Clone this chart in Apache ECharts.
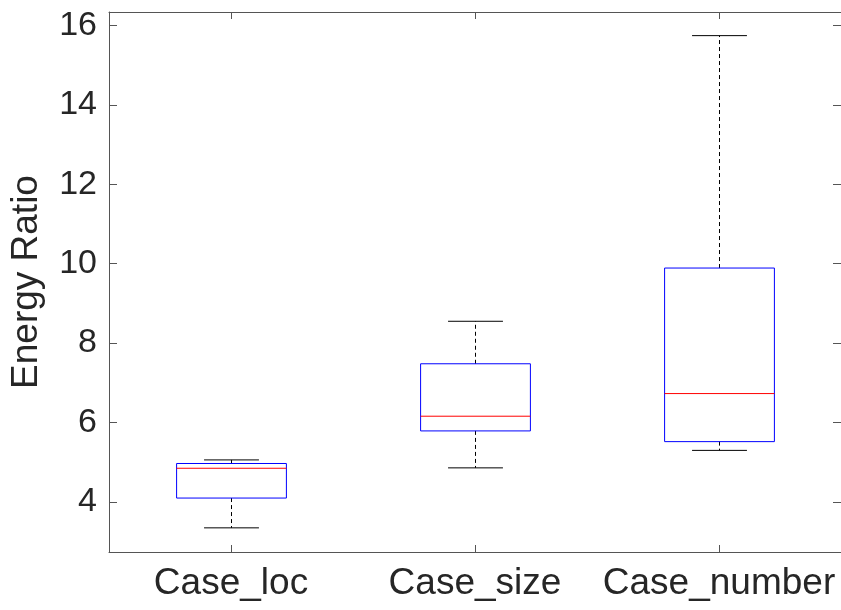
<!DOCTYPE html>
<html>
<head>
<meta charset="utf-8">
<script src="https://cdn.jsdelivr.net/npm/echarts@6/dist/echarts.min.js"></script>
<style>
html,body{margin:0;padding:0;background:#fff;}
#chart{width:841px;height:610px;}
</style>
</head>
<body>
<div id="chart"></div>
<script>
const categories = ['Case_loc', 'Case_size', 'Case_number'];
const whiskerLow = [3.35, 4.86, 5.30];
const quartile1 = [4.10, 5.79, 5.52];
const medians = [4.85, 6.16, 6.73];
const quartile3 = [4.97, 7.48, 9.89];
const whiskerHigh = [5.06, 8.55, 15.74];
const yTicks = [4, 6, 8, 10, 12, 14, 16];
const yMin = 2.742, yMax = 16.335;

const boxData = categories.map((c, i) => [i, whiskerLow[i], quartile1[i], medians[i], quartile3[i], whiskerHigh[i]]);

const font = '"Liberation Sans", Arial, sans-serif';
const textColor = '#262626';
const axisColor = '#555555';

const chart = echarts.init(document.getElementById('chart'), null, {renderer: 'canvas'});

function renderBox(params, api) {
  const idx = api.value(0);
  const x = api.coord([idx, 0])[0];
  const band = api.size([1, 0])[0];
  const boxW = band * 0.45;
  const capW = boxW / 2;
  const yLo = api.coord([idx, api.value(1)])[1];
  const yQ1 = api.coord([idx, api.value(2)])[1];
  const yMed = api.coord([idx, api.value(3)])[1];
  const yQ3 = api.coord([idx, api.value(4)])[1];
  const yHi = api.coord([idx, api.value(5)])[1];
  const xc = Math.round(x) + 0.5;
  const dash = {stroke: '#000', lineWidth: 1, lineDash: [4, 3]};
  const solid = {stroke: '#000', lineWidth: 1};
  return {
    type: 'group',
    children: [
      {type: 'line', shape: {x1: xc, y1: yQ3, x2: xc, y2: yHi}, style: dash},
      {type: 'line', shape: {x1: xc, y1: yQ1, x2: xc, y2: yLo}, style: dash},
      {type: 'line', shape: {x1: xc - capW / 2, y1: yHi, x2: xc + capW / 2, y2: yHi}, style: solid},
      {type: 'line', shape: {x1: xc - capW / 2, y1: yLo, x2: xc + capW / 2, y2: yLo}, style: solid},
      {type: 'rect', shape: {x: xc - boxW / 2, y: yQ3, width: boxW, height: yQ1 - yQ3}, style: {fill: null, stroke: '#0000ff', lineWidth: 1}},
      {type: 'line', shape: {x1: xc - boxW / 2, y1: yMed, x2: xc + boxW / 2, y2: yMed}, style: {stroke: '#ff0000', lineWidth: 1}}
    ]
  };
}

const option = {
  backgroundColor: '#ffffff',
  animation: false,
  grid: {left: 107, top: 12, width: 736, height: 540, containLabel: false},
  xAxis: [
    {
      type: 'category', data: categories, position: 'bottom', boundaryGap: true,
      axisLine: {show: true, lineStyle: {color: axisColor, width: 1}},
      axisTick: {show: true, inside: true, length: 7, alignWithLabel: true, interval: 0, lineStyle: {color: axisColor}},
      axisLabel: {color: textColor, fontFamily: font, fontSize: 37, margin: 13, interval: 0, hideOverlap: false},
      splitLine: {show: false}
    },
    {
      type: 'category', data: categories, position: 'top', boundaryGap: true,
      axisLine: {show: true, lineStyle: {color: axisColor, width: 1}},
      axisTick: {show: true, inside: true, length: 7, alignWithLabel: true, interval: 0, lineStyle: {color: axisColor}},
      axisLabel: {show: false},
      splitLine: {show: false}
    }
  ],
  yAxis: [
    {
      type: 'value', min: yMin, max: yMax, position: 'left',
      name: 'Energy Ratio', nameLocation: 'middle', nameGap: 64,
      nameTextStyle: {color: textColor, fontFamily: font, fontSize: 37},
      axisLine: {show: true, lineStyle: {color: axisColor, width: 1}},
      axisTick: {show: true, inside: true, length: 8, customValues: yTicks, lineStyle: {color: axisColor}},
      axisLabel: {color: textColor, fontFamily: font, fontSize: 34, margin: 12, customValues: yTicks},
      splitLine: {show: false}
    },
    {
      type: 'value', min: yMin, max: yMax, position: 'right',
      axisLine: {show: true, lineStyle: {color: axisColor, width: 1}},
      axisTick: {show: true, inside: true, length: 8, customValues: yTicks, lineStyle: {color: axisColor}},
      axisLabel: {show: false},
      splitLine: {show: false}
    }
  ],
  series: [
    {
      type: 'custom',
      xAxisIndex: 0, yAxisIndex: 0,
      renderItem: renderBox,
      encode: {x: 0, y: [1, 2, 3, 4, 5]},
      data: boxData,
      clip: false
    }
  ]
};
chart.setOption(option);
</script>
</body>
</html>
